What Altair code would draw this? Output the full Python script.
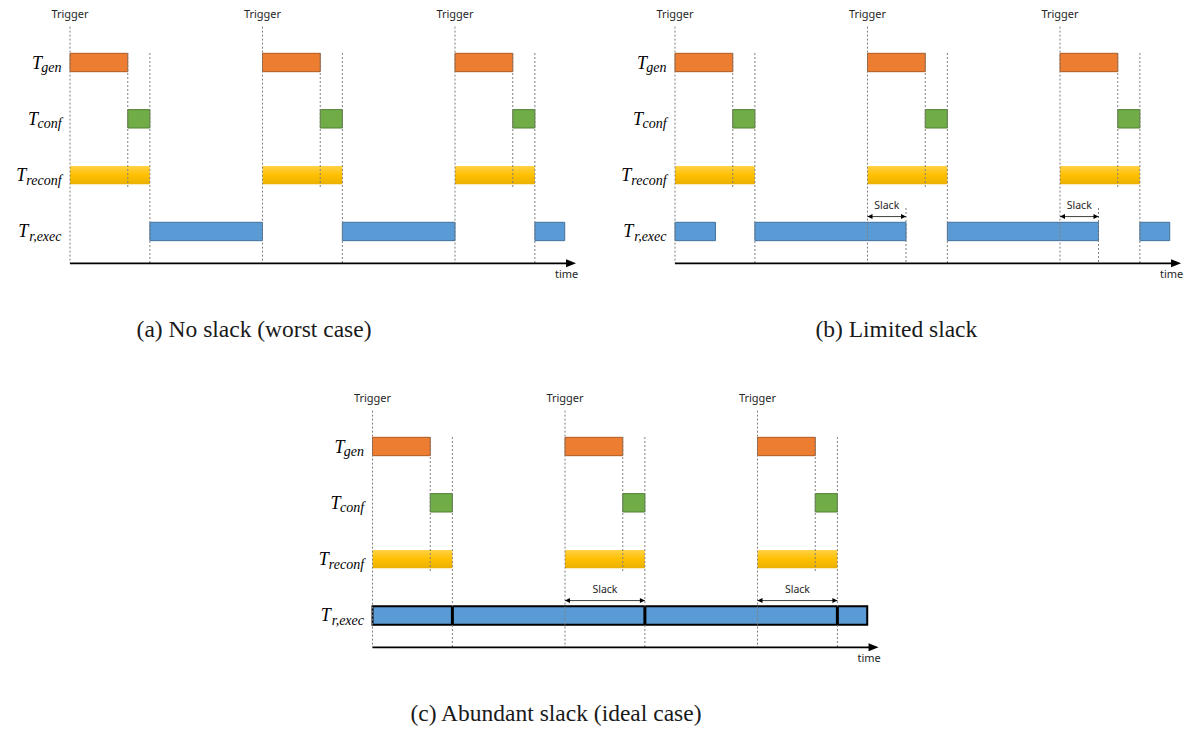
import altair as alt
import pandas as pd

# ---------------- data (time units; one trigger period = 10) ----------------
TRIGGERS = [0.0, 10.0, 20.0]
GEN_LEN = 3.0
CONF_LEN = 1.15
ROW_SUBS = ["gen", "conf", "reconf", "r,exec"]
EXEC_A = [[4.15, 10.0], [14.15, 20.0], [24.15, 25.7]]
EXEC_B = [[0.0, 2.1], [4.15, 12.0], [14.15, 22.0], [24.15, 25.7]]
EXEC_C = [[0.0, 25.7]]
EXEC_C_SEPARATORS = [4.15, 14.15, 24.15]
EXEC_END_LINES_B = [12.0, 22.0]
SLACK_B = [[10.0, 12.0], [20.0, 22.0]]
SLACK_C = [[10.0, 14.15], [20.0, 24.15]]
CAPTIONS = ["(a) No slack (worst case)", "(b) Limited slack",
            "(c) Abundant slack (ideal case)"]
CAPTION_X = [9.56, 11.5, 9.53]
TIME_AXIS_END = 26.29
TIME_LABEL_X = 25.8

# ---------------- layout ----------------
U = 19.25            # px per time unit
PANEL_W, PANEL_H = 575, 340
ROW_PX = 56.33
XDOM = [-62 / U, (PANEL_W - 62) / U]
YDOM = [-54.5 / ROW_PX, (PANEL_H - 54.5) / ROW_PX]
BH = 0.163
TRIG_TOP = -0.637
BAR_TOP = -0.168
GEN_END_BOTTOM = 2.21
EXEC_END_TOP = 2.583
AXIS_Y = 3.565
TIME_LABEL_Y = 3.772
TRIGGER_LABEL_Y = -0.845
CAPTION_Y = 4.749
SLACK_ARROW_Y = 2.735
SLACK_TEXT_Y = 2.545
LABEL_ANCHOR = -0.44
SUB_EM = {"g": .5, "e": .444, "n": .5, "c": .444, "o": .5, "f": .278,
          "r": .389, ",": .25, "x": .444}
SUB_SIZE = 14
RECONF_LEN = GEN_LEN + CONF_LEN

XS = alt.Scale(domain=XDOM, nice=False, zero=False)
YS = alt.Scale(domain=YDOM, nice=False, zero=False, reverse=True)


def X():
    return alt.X("x:Q", scale=XS, axis=None)


def Y():
    return alt.Y("y:Q", scale=YS, axis=None)


def dotted(xs, y0, y1):
    df = pd.DataFrame({"x": xs, "y": [y0] * len(xs), "y2": [y1] * len(xs)})
    return alt.Chart(df).mark_rule(color="#7f7f7f", strokeWidth=1,
                                   strokeDash=[2, 2]).encode(
        x=X(), y=Y(), y2=alt.Y2("y2:Q"))


def bars(spans, row, **mark):
    df = pd.DataFrame({"x": [s[0] for s in spans], "x2": [s[1] for s in spans],
                       "y": [row - BH] * len(spans), "y2": [row + BH] * len(spans)})
    return alt.Chart(df).mark_rect(**mark).encode(
        x=X(), x2=alt.X2("x2:Q"), y=Y(), y2=alt.Y2("y2:Q"))


def texts(xs, ys, labels, **mark):
    df = pd.DataFrame({"x": xs, "y": ys, "text": labels})
    return alt.Chart(df).mark_text(**mark).encode(x=X(), y=Y(), text="text:N")


def heads(xs, y, shape, size):
    df = pd.DataFrame({"x": xs, "y": [y] * len(xs)})
    return alt.Chart(df).mark_point(shape=shape, size=size, filled=True,
                                    color="black", opacity=1,
                                    strokeWidth=0).encode(x=X(), y=Y())


reconf_grad = alt.Gradient(
    gradient="linear", x1=0, x2=0, y1=0, y2=1,
    stops=[alt.GradientStop(color="#FFD247", offset=0),
           alt.GradientStop(color="#FFC000", offset=0.5),
           alt.GradientStop(color="#E9B000", offset=1)])


def panel(execs, slacks, end_lines, separators, caption, cap_x, ideal):
    layers = []
    gen = [[t, t + GEN_LEN] for t in TRIGGERS]
    conf = [[t + GEN_LEN, t + RECONF_LEN] for t in TRIGGERS]
    rec = [[t, t + RECONF_LEN] for t in TRIGGERS]
    layers.append(bars(gen, 0, fill="#ED7D31", stroke="#AE5A21", strokeWidth=1))
    layers.append(bars(conf, 1, fill="#70AD47", stroke="#507E32", strokeWidth=1))
    layers.append(bars(rec, 2, fill=reconf_grad, strokeWidth=0))
    if ideal:
        layers.append(bars(execs, 3, fill="#5B9BD5", stroke="black", strokeWidth=2))
    else:
        layers.append(bars(execs, 3, fill="#5B9BD5", stroke="#41719C", strokeWidth=1))
    # dotted guide lines
    layers.append(dotted(TRIGGERS, TRIG_TOP, AXIS_Y))
    layers.append(dotted([t + RECONF_LEN for t in TRIGGERS], BAR_TOP, AXIS_Y))
    layers.append(dotted([t + GEN_LEN for t in TRIGGERS], BAR_TOP, GEN_END_BOTTOM))
    if end_lines:
        layers.append(dotted(end_lines, EXEC_END_TOP, AXIS_Y))
    if separators:
        sdf = pd.DataFrame({"x": separators, "y": [3 - BH] * len(separators),
                            "y2": [3 + BH] * len(separators)})
        layers.append(alt.Chart(sdf).mark_rule(color="black", strokeWidth=3).encode(
            x=X(), y=Y(), y2=alt.Y2("y2:Q")))
    # slack arrows
    if slacks:
        adf = pd.DataFrame({"x": [s[0] for s in slacks], "x2": [s[1] for s in slacks],
                            "y": [SLACK_ARROW_Y] * len(slacks)})
        layers.append(alt.Chart(adf).mark_rule(color="#404040", strokeWidth=1).encode(
            x=X(), x2=alt.X2("x2:Q"), y=Y()))
        layers.append(heads([s[0] for s in slacks], SLACK_ARROW_Y,
                            "M0,0L1,-0.5L1,0.5Z", 100))
        layers.append(heads([s[1] for s in slacks], SLACK_ARROW_Y,
                            "M0,0L-1,-0.5L-1,0.5Z", 100))
        layers.append(texts([(s[0] + s[1]) / 2 for s in slacks],
                            [SLACK_TEXT_Y] * len(slacks), ["Slack"] * len(slacks),
                            font="Noto Sans", fontSize=10.5, color="#262626",
                            baseline="middle", align="center"))
    # time axis
    axdf = pd.DataFrame({"x": [0.0], "x2": [TIME_AXIS_END - 0.4], "y": [AXIS_Y]})
    layers.append(alt.Chart(axdf).mark_rule(color="black", strokeWidth=1.8).encode(
        x=X(), x2=alt.X2("x2:Q"), y=Y()))
    layers.append(heads([TIME_AXIS_END], AXIS_Y, "M0,0L-1,-0.4L-1,0.4Z", 400))
    layers.append(texts([TIME_LABEL_X], [TIME_LABEL_Y], ["time"], font="Noto Sans",
                        fontSize=11, color="#262626", baseline="middle", align="center"))
    layers.append(texts(TRIGGERS, [TRIGGER_LABEL_Y] * 3, ["Trigger"] * 3,
                        font="Noto Sans", fontSize=11, color="#262626",
                        baseline="middle", align="center"))
    # row labels  T_sub
    sub_w = [sum(SUB_EM.get(ch, .45) for ch in s) * SUB_SIZE / U for s in ROW_SUBS]
    rows = list(range(len(ROW_SUBS)))
    layers.append(texts([LABEL_ANCHOR - w + 0.03 for w in sub_w], rows, ["T"] * 4,
                        font="Liberation Serif", fontStyle="italic", fontSize=18,
                        color="black", baseline="alphabetic", align="right", dy=6))
    layers.append(texts([LABEL_ANCHOR] * 4, rows, ROW_SUBS,
                        font="Liberation Serif", fontStyle="italic", fontSize=SUB_SIZE,
                        color="black", baseline="alphabetic", align="right", dy=9.5))
    layers.append(texts([cap_x], [CAPTION_Y], [caption], font="Liberation Serif",
                        fontSize=23.5, color="#1a1a1a", baseline="middle",
                        align="center"))
    return alt.layer(*layers).properties(width=PANEL_W, height=PANEL_H)


pa = panel(EXEC_A, [], [], [], CAPTIONS[0], CAPTION_X[0], False)
pb = panel(EXEC_B, SLACK_B, EXEC_END_LINES_B, [], CAPTIONS[1], CAPTION_X[1], False)
pc = panel(EXEC_C, SLACK_C, [], EXEC_C_SEPARATORS, CAPTIONS[2], CAPTION_X[2], True)

row1 = alt.hconcat(pa, pb, spacing=30)
chart = alt.vconcat(row1, pc, spacing=44, center=True,
                    padding=0).configure_view(strokeWidth=0)

chart.save("out.html", embed_options={"renderer": "svg", "actions": False})
